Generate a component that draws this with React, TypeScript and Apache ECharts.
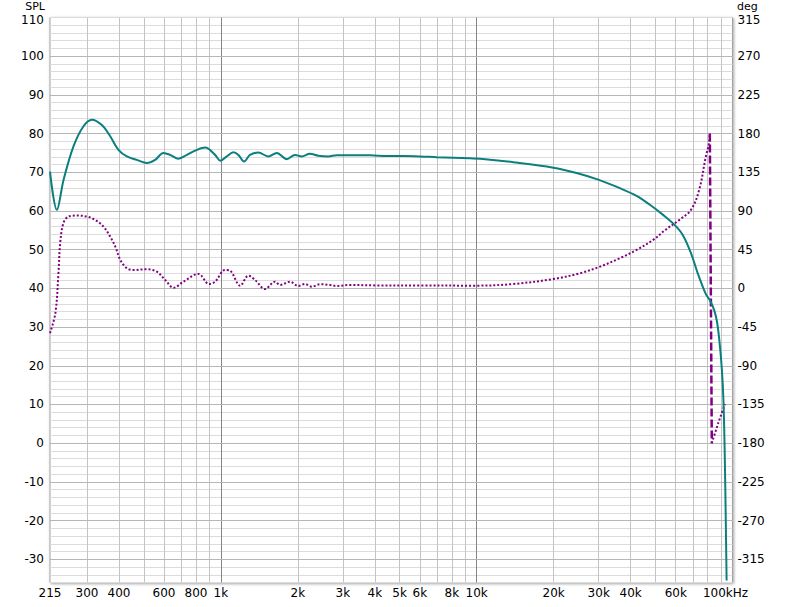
import React, { useEffect, useRef } from "react";
import * as echarts from "echarts";

// SPL curve (Hz, dB)
const splFreq = [215, 228.7, 243, 265.6, 290.6, 313.6, 343, 369.6, 398, 429.5, 469.9, 514, 553.6, 597, 634, 683, 736.6, 794, 868.6, 950, 997, 1055, 1120, 1172, 1233, 1301, 1402, 1534, 1655, 1810, 1950, 2071, 2230, 2404, 2630, 2837, 3294, 3830, 4453, 5173, 6010, 6983, 8115, 9430, 10330, 13900, 19930, 24570, 29860, 36280, 42170, 47540, 53530, 59390, 63910, 68820, 73130, 78670, 81530, 84800, 86900, 88700, 90710, 92170, 93400, 94830];
const splVal = [70.2, 60.3, 68.1, 76.7, 81.9, 83.6, 82.2, 79.3, 75.8, 74.1, 73.2, 72.4, 73.2, 75.0, 74.5, 73.5, 74.5, 75.6, 76.4, 74.5, 73.0, 74.1, 75.2, 74.5, 72.8, 74.5, 75.1, 74.1, 75.0, 73.4, 74.5, 74.1, 74.8, 74.3, 74.1, 74.4, 74.4, 74.4, 74.2, 74.2, 74.1, 73.9, 73.75, 73.6, 73.5, 72.6, 71.2, 69.8, 68.1, 65.9, 63.9, 61.6, 59.0, 56.4, 53.8, 49.1, 43.9, 38.5, 37.0, 34.4, 31.5, 27.0, 19.8, 11.1, -5.3, -35.5];

// Phase curve (Hz, deg), before the wrap
const phaseFreq = [215, 225.6, 232, 235.6, 242.5, 253.8, 273.3, 299.6, 322.6, 348, 369.6, 387, 404.9, 429.5, 456, 514, 562.5, 606.5, 653.5, 714.5, 817.5, 900, 950, 1039, 1087, 1190, 1282, 1361, 1489, 1628, 1705, 1865, 2010, 2136, 2265, 2442, 2673, 2837, 3200, 4000, 6000, 10000, 13900, 19930, 25340, 30360, 36280, 42170, 48970, 55090, 62020, 68820, 74100, 78670, 81000, 81530];
const phaseVal = [-52, -29, 17.6, 52.5, 75.8, 83.5, 84.7, 83.5, 79.7, 71.9, 60.2, 48.6, 33.1, 23.4, 21.4, 22.2, 19.4, 9.8, 0.8, 7.8, 16.8, 5.0, 7.8, 21.4, 20.6, 3.1, 14.8, 9.8, -0.7, 7.8, 4.0, 7.8, 2.8, 5.1, 2.0, 4.8, 4.0, 2.8, 4.0, 3.5, 3.3, 3.2, 5.1, 10.9, 17.6, 25.3, 35.1, 44.7, 56.4, 68.8, 79.7, 91.3, 114.6, 153.4, 169, 180];

// Phase wrap connector and the part after the wrap
const wrapFreq = [81530, 83010];
const wrapVal = [180, -180];
const phase2Freq = [83010, 87870, 93400];
const phase2Val = [-180, -157, -134.6];

// Axis ticks and grid
const xTickValues = [215, 300, 400, 600, 800, 1000, 2000, 3000, 4000, 5000, 6000, 8000, 10000, 20000, 30000, 40000, 60000, 100000];
const xTickLabels = ["215", "300", "400", "600", "800", "1k", "2k", "3k", "4k", "5k", "6k", "8k", "10k", "20k", "30k", "40k", "60k", "100kHz"];
const xGridValues = [300, 400, 500, 600, 700, 800, 900, 1000, 2000, 3000, 4000, 5000, 6000, 7000, 8000, 9000, 10000, 20000, 30000, 40000, 50000, 60000, 70000, 80000, 90000];
const xGridMajor = [1000, 10000];
const yMajorValues = [-30, -20, -10, 0, 10, 20, 30, 40, 50, 60, 70, 80, 90, 100];

const FONT = "DejaVu Sans";

export default function App() {
  const ref = useRef<HTMLDivElement>(null);
  useEffect(() => {
    if (!ref.current) return;
    const chart = echarts.init(ref.current, undefined, { renderer: "svg" });

    const gridLines: any[] = [];
    xGridValues.forEach((v) => {
      const major = xGridMajor.indexOf(v) >= 0;
      gridLines.push({
        xAxis: v,
        lineStyle: { color: major ? "#858585" : "#c4c4c4", width: 1, type: "solid" },
        label: { show: false },
      });
    });
    yMajorValues.forEach((v) => {
      gridLines.push({
        yAxis: v,
        lineStyle: { color: "#b6b6b6", width: 1, type: "solid" },
        label: { show: false },
      });
    });
    const labelLines: any[] = xTickValues.map((v, i) => ({
      xAxis: v,
      lineStyle: { color: "rgba(255,255,255,0)", width: 1, type: "solid" },
      label: {
        show: true,
        position: "start",
        distance: 4,
        formatter: xTickLabels[i],
        color: "#000",
        opacity: 1,
        fontFamily: FONT,
        fontSize: 12,
        padding: v === 100000 ? [0, 14, 0, 0] : 0,
      },
    }));

    const option: any = {
      animation: false,
      backgroundColor: "#fff",
      grid: {
        left: 50,
        right: 67.5,
        top: 17.5,
        bottom: 24.5,
        show: true,
        backgroundColor: "#fff",
        borderColor: "#a0a0a0",
        borderWidth: 1,
        shadowColor: "rgba(0,0,0,0.35)",
        shadowBlur: 3,
        shadowOffsetX: 1,
        shadowOffsetY: 1,
      },
      xAxis: {
        type: "log",
        logBase: 10,
        min: 215,
        max: 100000,
        axisLine: { show: false },
        axisTick: { show: false },
        axisLabel: { show: false },
        splitLine: { show: false },
      },
      yAxis: [
        {
          type: "value",
          min: -36,
          max: 110,
          interval: 2,
          position: "left",
          axisLine: { show: false },
          axisTick: { show: false },
          axisLabel: {
            margin: 6,
            color: "#000",
            fontFamily: FONT,
            fontSize: 12,
            formatter: (v: number) => {
              const r = Math.round(v);
              if (r % 10 !== 0) return "";
              return r === 110 ? "{t|110}" : String(r);
            },
            rich: { t: { padding: [5, 0, 0, 0], fontFamily: FONT, fontSize: 12, color: "#000" } },
          },
          splitLine: { show: true, lineStyle: { color: "#dcdcdc", width: 1 } },
        },
        {
          type: "value",
          min: -342,
          max: 315,
          interval: 9,
          position: "right",
          axisLine: { show: false },
          axisTick: { show: false },
          axisLabel: {
            margin: 5,
            color: "#000",
            fontFamily: FONT,
            fontSize: 12,
            formatter: (v: number) => {
              const r = Math.round(v);
              if (r % 45 !== 0) return "";
              return r === 315 ? "{t|315}" : String(r);
            },
            rich: { t: { padding: [5, 0, 0, 0], fontFamily: FONT, fontSize: 12, color: "#000" } },
          },
          splitLine: { show: false },
        },
      ],
      graphic: [
        {
          type: "text",
          x: 45,
          y: 6.4,
          style: {
            text: "SPL",
            font: `11px "${FONT}"`,
            fill: "#000",
            align: "right",
            verticalAlign: "middle",
            textAlign: "right",
            textVerticalAlign: "middle",
          },
        },
        {
          type: "text",
          x: 737,
          y: 6.4,
          style: {
            text: "deg",
            font: `11px "${FONT}"`,
            fill: "#000",
            align: "left",
            verticalAlign: "middle",
            textAlign: "left",
            textVerticalAlign: "middle",
          },
        },
      ],
      series: [
        {
          type: "line",
          name: "grid",
          xAxisIndex: 0,
          yAxisIndex: 0,
          data: [],
          silent: true,
          z: 1,
          markLine: {
            silent: true,
            animation: false,
            symbol: ["none", "none"],
            z: 1,
            label: { show: false },
            data: gridLines.concat(labelLines),
          },
        },
        {
          type: "line",
          name: "SPL",
          xAxisIndex: 0,
          yAxisIndex: 0,
          data: splFreq.map((f, i) => [f, splVal[i]]),
          showSymbol: false,
          smooth: 0.35,
          lineStyle: { color: "#0b7f7e", width: 2 },
          z: 4,
        },
        {
          type: "line",
          name: "Phase",
          xAxisIndex: 0,
          yAxisIndex: 1,
          data: phaseFreq.map((f, i) => [f, phaseVal[i]]),
          showSymbol: false,
          smooth: 0.35,
          lineStyle: { color: "#800080", width: 2, type: "dotted" },
          z: 3,
        },
        {
          type: "line",
          name: "Phase wrap",
          xAxisIndex: 0,
          yAxisIndex: 1,
          data: wrapFreq.map((f, i) => [f, wrapVal[i]]),
          showSymbol: false,
          lineStyle: { color: "#800080", width: 2.5, type: [8, 3] },
          z: 3,
        },
        {
          type: "line",
          name: "Phase 2",
          xAxisIndex: 0,
          yAxisIndex: 1,
          data: phase2Freq.map((f, i) => [f, phase2Val[i]]),
          showSymbol: false,
          smooth: 0.2,
          lineStyle: { color: "#800080", width: 2, type: "dotted" },
          z: 3,
        },
      ],
    };
    chart.setOption(option);
    return () => chart.dispose();
  }, []);
  return (
    <div
      ref={ref}
      style={{ position: "fixed", left: 0, top: 0, width: 800, height: 607, background: "#fff" }}
    />
  );
}
